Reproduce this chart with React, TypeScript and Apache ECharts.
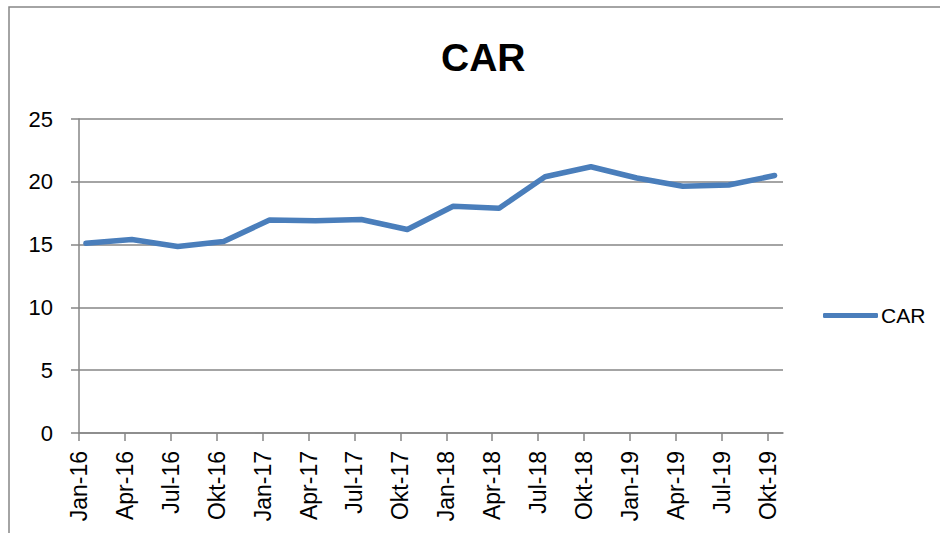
import React, { useEffect, useRef } from "react";
import * as echarts from "echarts";

const tickLabels = [
  "Jan-16", "Apr-16", "Jul-16", "Okt-16",
  "Jan-17", "Apr-17", "Jul-17", "Okt-17",
  "Jan-18", "Apr-18", "Jul-18", "Okt-18",
  "Jan-19", "Apr-19", "Jul-19", "Okt-19",
];
// month index (from Jan-16) of each observation
const months = [0.45, 3.45, 6.45, 9.45, 12.45, 15.45, 18.45, 21.45, 24.45, 27.45, 30.45, 33.45, 36.45, 39.45, 42.45, 45.45];
const carValues = [15.1, 15.4, 14.85, 15.25, 16.95, 16.9, 17.0, 16.2, 18.05, 17.9, 20.4, 21.2, 20.3, 19.65, 19.75, 20.5];
const tickMonths = [0, 3, 6, 9, 12, 15, 18, 21, 24, 27, 30, 33, 36, 39, 42, 45];

export default function App() {
  const ref = useRef<HTMLDivElement>(null);
  useEffect(() => {
    document.body.style.margin = "0";
    const chart = echarts.init(ref.current!, undefined, { renderer: "svg" });
    const gray = "#868686";
    const blue = "#4a7ebb";
    chart.setOption({
      animation: false,
      backgroundColor: "#ffffff",
      title: {
        text: "CAR",
        left: 436,
        top: 33,
        textStyle: { fontFamily: "Liberation Sans", fontWeight: "bold", fontSize: 39, color: "#000" },
      },
      graphic: [
        {
          type: "rect",
          shape: { x: 9, y: 7, width: 1000, height: 1000 },
          style: { fill: "none", stroke: gray, lineWidth: 1.5 },
          silent: true,
        },
      ],
      legend: {
        show: true,
        orient: "vertical",
        left: 818,
        top: 300,
        itemWidth: 55,
        itemHeight: 5,
        textStyle: { fontFamily: "Liberation Sans", fontSize: 21, color: "#000", padding: [0, 0, 0, -2] },
        data: [{ name: "CAR", icon: "roundRect", itemStyle: { color: blue } }],
      },
      grid: { left: 79, top: 119, right: 157, bottom: 100 },
      xAxis: {
        type: "value",
        min: 0,
        max: 46,
        interval: 3,
        axisLine: { show: true, onZero: false, lineStyle: { color: gray, width: 1.5 } },
        axisTick: { show: true, length: 8, customValues: tickMonths, lineStyle: { color: gray, width: 1.5 } },
        axisLabel: {
          customValues: tickMonths,
          rotate: 90,
          margin: 18,
          fontFamily: "Liberation Sans",
          fontSize: 23,
          color: "#000",
          formatter: (v: number) => tickLabels[Math.round(v / 3)] ?? "",
        },
        splitLine: { show: false },
      },
      yAxis: {
        type: "value",
        min: 0,
        max: 25,
        interval: 5,
        axisLine: { show: true, lineStyle: { color: gray, width: 1.5 } },
        axisTick: { show: true, length: 8, lineStyle: { color: gray, width: 1.5 } },
        axisLabel: { margin: 26, fontFamily: "Liberation Sans", fontSize: 22, color: "#000" },
        splitLine: { show: true, lineStyle: { color: gray, width: 1.5 } },
      },
      series: [
        {
          name: "CAR",
          type: "line",
          data: months.map((m, i) => [m, carValues[i]]),
          symbol: "none",
          lineStyle: { color: blue, width: 5.5, cap: "round", join: "round" },
          itemStyle: { color: blue },
        },
      ],
    });
    return () => chart.dispose();
  }, []);
  return <div ref={ref} style={{ width: 940, height: 533 }} />;
}
